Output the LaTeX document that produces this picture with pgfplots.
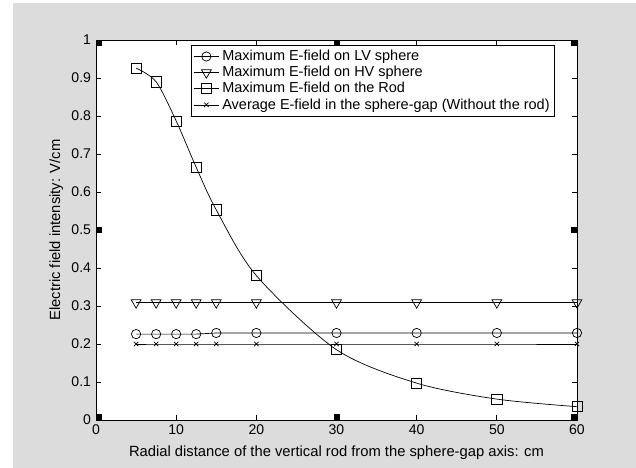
\documentclass[border=0pt]{standalone}
\usepackage{pgfplots}
\pgfplotsset{compat=1.18}
\usepackage{fontspec}
\setmainfont{Liberation Sans}
\definecolor{bg}{RGB}{220,220,220}
\begin{document}
\begin{tikzpicture}
% px = 0.025cm; picture 636x468 px
\fill[white] (0,0) rectangle (15.9,11.7);
\fill[bg] (0.325,0) rectangle (15.9,11.625);
\begin{axis}[
    at={(2.4cm,1.2cm)}, anchor=south west,
    scale only axis,
    width=12.025cm, height=9.5cm,
    xmin=0, xmax=60, ymin=0, ymax=1,
    xtick={0,10,...,60},
    ytick={0,0.1,...,1},
    major tick length=0.13cm,
    tick style={black, line width=0.5pt},
    axis line style={line width=0.6pt},
    axis background/.style={fill=white},
    font=\fontsize{10}{12}\selectfont,
    /pgf/number format/assume math mode=true,
    xlabel={Radial distance of the vertical rod from the sphere-gap axis: cm},
    ylabel={Electric field intensity: V/cm},
    label style={font=\fontsize{10.5}{12}\selectfont},
    xlabel style={yshift=-1pt},
    ylabel style={yshift=-1pt},
    legend cell align=left,
    legend style={at={(0.197,0.987)}, anchor=north west, draw=black,
        line width=0.5pt, inner sep=1.5pt, row sep=-1.5pt,
        font=\fontsize{10.3}{12}\selectfont},
    legend image code/.code={
        \draw[mark repeat=2, mark phase=2, #1]
            plot coordinates {(0cm,0cm) (0.32cm,0cm) (0.64cm,0cm)};},
    every axis plot/.append style={black, line width=0.5pt},
]
\addplot[mark=o, mark size=3.3pt] coordinates {
    (5,0.226) (7.5,0.226) (10,0.226) (12.5,0.226) (15,0.229)
    (20,0.229) (30,0.229) (40,0.229) (50,0.229) (60,0.229)
};
\addlegendentry{Maximum E-field on LV sphere}
\addplot[mark=triangle, mark size=4pt, mark options={rotate=180}] coordinates {
    (5,0.309) (7.5,0.309) (10,0.309) (12.5,0.309) (15,0.309)
    (20,0.309) (30,0.309) (40,0.309) (50,0.309) (60,0.309)
};
\addlegendentry{Maximum E-field on HV sphere}
\addplot[smooth, mark=square, mark size=3.6pt] coordinates {
    (5,0.926) (7.5,0.890) (10,0.787) (12.5,0.665) (15,0.553)
    (20,0.380) (30,0.185) (40,0.097) (50,0.055) (60,0.035)
};
\addlegendentry{Maximum E-field on the Rod}
\addplot[mark=x, mark size=2.2pt] coordinates {
    (5,0.200) (7.5,0.200) (10,0.200) (12.5,0.200) (15,0.200)
    (20,0.200) (30,0.200) (40,0.200) (50,0.200) (60,0.200)
};
\addlegendentry{Average E-field in the sphere-gap (Without the rod)}
\addplot[only marks, mark=square*, mark size=1.8pt, forget plot] coordinates {
    (0.4,0.008) (30,0.008) (59.6,0.008) (0.4,0.5) (59.6,0.5)
    (0.4,0.992) (30,0.992) (59.6,0.992)
};
\end{axis}
\end{tikzpicture}
\end{document}
